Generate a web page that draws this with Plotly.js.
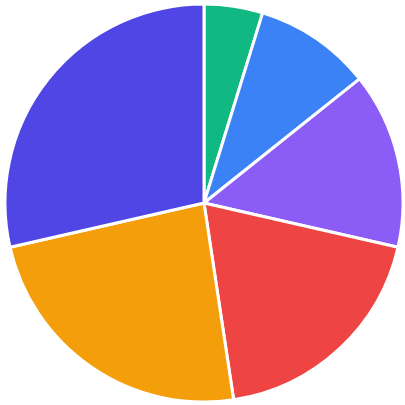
<!DOCTYPE html>
<html>
<head>
<meta charset="utf-8">
<script src="https://cdn.plot.ly/plotly-3.0.1.min.js"></script>
<style>
  html, body { margin: 0; padding: 0; background: #fff; }
  #chart { width: 405px; height: 405px; }
</style>
</head>
<body>
<div id="chart"></div>
<script>
// slice names (not shown on the chart) and their values
var labels = ['A', 'B', 'C', 'D', 'E', 'F'];
var values = [5, 10, 15, 20, 25, 30];
var colors = ['#10b981', '#3b82f6', '#8b5cf6', '#ef4444', '#f59e0b', '#4f46e5'];

var trace = {
  type: 'pie',
  labels: labels,
  values: values,
  sort: false,
  direction: 'clockwise',
  rotation: 0,
  textinfo: 'none',
  marker: {
    colors: colors,
    line: { color: '#ffffff', width: 3 }
  }
};

var layout = {
  width: 405,
  height: 405,
  margin: { l: 5, r: 2, t: 4, b: 3 },
  showlegend: false,
  paper_bgcolor: '#ffffff'
};

Plotly.newPlot('chart', [trace], layout, { displayModeBar: false, staticPlot: true });
</script>
</body>
</html>
